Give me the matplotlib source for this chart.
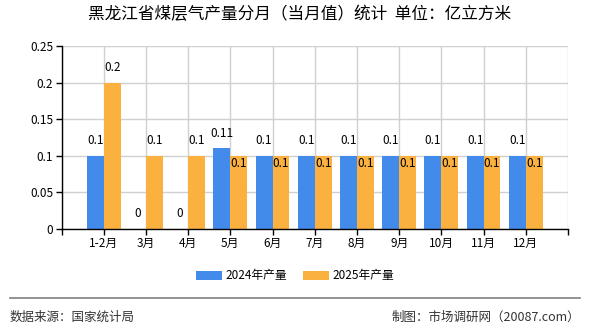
import numpy as np
import matplotlib.pyplot as plt
from matplotlib.lines import Line2D

plt.rcParams["font.family"] = ["Noto Sans CJK SC", "DejaVu Sans"]

months = ["1-2月", "3月", "4月", "5月", "6月", "7月", "8月", "9月", "10月", "11月", "12月"]
prod_2024 = [0.1, 0, 0, 0.11, 0.1, 0.1, 0.1, 0.1, 0.1, 0.1, 0.1]
prod_2025 = [0.2, 0.1, 0.1, 0.1, 0.1, 0.1, 0.1, 0.1, 0.1, 0.1, 0.1]
yticks = [0, 0.05, 0.1, 0.15, 0.2, 0.25]
ytick_labels = ["0", "0.05", "0.1", "0.15", "0.2", "0.25"]

blue = "#438BEB"
orange = "#FBB13F"

fig = plt.figure(figsize=(5.9, 3.3), dpi=100)
ax = fig.add_axes([61.5 / 590, 1 - 229 / 330, (568 - 61.5) / 590, (229 - 46) / 330])

x = np.arange(1, len(months) + 1)
w = 0.4
ax.bar(x - w / 2, prod_2024, w, color=blue, label="2024年产量", zorder=3)
ax.bar(x + w / 2, prod_2025, w, color=orange, label="2025年产量", zorder=3)

for xi, a, b in zip(x, prod_2024, prod_2025):
    ax.text(xi - w / 2, a + 0.012, f"{a:g}", ha="center", va="bottom", fontsize=8.5, zorder=4)
    if b > a or a == 0:
        ax.text(xi + w / 2, b + 0.012, f"{b:g}", ha="center", va="bottom", fontsize=8.5, zorder=4)
    else:
        ax.text(xi + w / 2, b - 0.011, f"{b:g}", ha="center", va="center", fontsize=8.5, zorder=4)

ax.set_xlim(0, 12)
ax.set_ylim(0, 0.25)
ax.set_xticks(np.arange(0, 13))
ax.set_xticklabels([""] + months + [""], fontsize=8.5)
ax.set_yticks(yticks)
ax.set_yticklabels(ytick_labels, fontsize=8.5)
ax.tick_params(length=4, width=1, color="black", pad=2)
ax.grid(True, color="#d0d0d0", linewidth=1, zorder=0)
for s in ["top", "right"]:
    ax.spines[s].set_visible(False)
for s in ["left", "bottom"]:
    ax.spines[s].set_color("black")
    ax.spines[s].set_linewidth(1)
    ax.spines[s].set_zorder(5)

fig.text(300 / 590, 1 - 15 / 330, "黑龙江省煤层气产量分月（当月值）统计  单位：亿立方米",
         ha="center", va="center", fontsize=12)

fig.legend(loc="center", bbox_to_anchor=(295 / 590, 1 - 276 / 330), ncol=2, frameon=False,
           fontsize=8.5, handlelength=2.2, handleheight=0.8, columnspacing=1.4, handletextpad=0.3)

fig.add_artist(Line2D([10 / 590, 580 / 590], [1 - 298 / 330] * 2, color="#808080", linewidth=1.2))
fig.text(10 / 590, 1 - 317 / 330, "数据来源：国家统计局", ha="left", va="center", fontsize=9, color="#333333")
fig.text(580 / 590, 1 - 317 / 330, "制图：市场调研网（20087.com）", ha="right", va="center", fontsize=9, color="#333333")

fig.savefig("out.png", dpi=100)
